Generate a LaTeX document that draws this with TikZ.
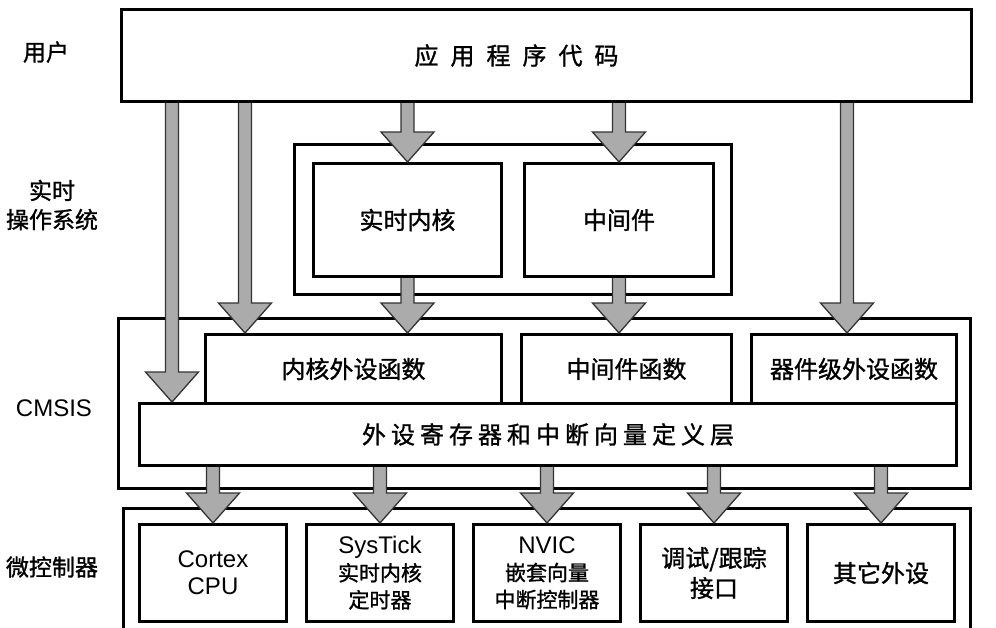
\documentclass[tikz,border=0pt]{standalone}
\usepackage{fontspec}
\setmainfont{Liberation Sans}
\newfontfamily\cjk[FakeBold=1.2]{Noto Sans CJK SC}
\usetikzlibrary{positioning,calc}
\newcommand{\appgap}{\hspace{12pt}}
\newcommand{\reggap}{\hspace{5pt}}
\newcommand{\smcjk}{\cjk\fontsize{21}{27}\selectfont}
\newcommand{\fatarrow}[2]{%
  \path[draw=black!80, fill=black!33, line width=1.3pt, line join=miter]
    let \p1=#1, \p2=#2 in
    (\x2-6.5pt,\y1) -- (\x2-6.5pt,\y2+30pt) -- (\x2-26.5pt,\y2+30pt) -- (\x2,\y2)
    -- (\x2+26.5pt,\y2+30pt) -- (\x2+6.5pt,\y2+30pt) -- (\x2+6.5pt,\y1);}

\begin{document}
\begin{tikzpicture}[x=1pt, y=-1pt,
  frame/.style={draw, line width=3pt, anchor=north west, inner sep=0pt},
  blk/.style={draw, line width=3pt, anchor=north west, inner sep=0pt, align=center,
    font=\cjk\fontsize{24}{28}\selectfont},
  chip/.style={draw, line width=3pt, inner sep=0pt, align=center,
    minimum width=147pt, minimum height=97pt, font=\fontsize{24}{27}\selectfont},
  side/.style={align=center, font=\cjk\fontsize{23}{29}\selectfont}
]
  \useasboundingbox (0,0) rectangle (996,627);
  \node[side] (user) at (46,52) {用户};
  \node[side] (os) at (52,205) {实时\\操作系统};
  \node[font=\fontsize{24}{28}\selectfont] (cmsislbl) at (54,408) {CMSIS};
  \node[side] (mculbl) at (52,567) {微控制器};

  \node[frame, minimum width=850, minimum height=92] (app) at (120,8) {};
  \node[font=\cjk\fontsize{24}{28}\selectfont] (apptxt) at ([xshift=-30pt]app.center)
    {应\appgap 用\appgap 程\appgap 序\appgap 代\appgap 码};

  \node[frame, minimum width=437, minimum height=150] (rtos) at (293,143) {};
  \node[blk, minimum width=188, minimum height=113] (rtk) at (312,162) {实时内核};
  \node[blk, minimum width=189, minimum height=113] (mid) at (523,162) {中间件};

  \node[frame, minimum width=852, minimum height=170] (cmsis) at (117,317) {};
  \node[blk, minimum width=296, minimum height=69] (core) at (204,333) {内核外设函数};
  \node[blk, minimum width=210, minimum height=69] (midfn) at (520,333) {中间件函数};
  \node[blk, minimum width=205, minimum height=69] (devfn) at (750,333) {器件级外设函数};
  \node[blk, minimum width=817, minimum height=62] (reg) at (138,402)
    {外\reggap 设\reggap 寄\reggap 存\reggap 器\reggap 和\reggap 中\reggap 断\reggap 向\reggap 量\reggap 定\reggap 义\reggap 层};

  \node[frame, minimum width=847, minimum height=160] (mcu) at (122,507) {};
  \node[chip, anchor=north west] (cpu) at (138,523) {Cortex\\CPU};
  \node[chip, right=17pt of cpu] (tick) {SysTick\\{\smcjk 实时内核}\\{\smcjk 定时器}};
  \node[chip, right=17pt of tick] (nvic) {NVIC\\{\smcjk 嵌套向量}\\{\smcjk 中断控制器}};
  \node[chip, right=17pt of nvic, font=\cjk\fontsize{24}{30}\selectfont] (dbg) {调试/跟踪\\接口};
  \node[chip, right=17pt of dbg, font=\cjk\fontsize{24}{28}\selectfont] (other) {其它外设};

  \fatarrow{(app.south)}{([xshift=34pt]reg.north west)}
  \fatarrow{(app.south)}{([xshift=41pt]core.north west)}
  \fatarrow{(app.south)}{(rtk.north)}
  \fatarrow{(app.south)}{(mid.north)}
  \fatarrow{(app.south)}{([xshift=-7pt]devfn.north)}
  \fatarrow{(rtk.south)}{(core.north -| rtk.north)}
  \fatarrow{(mid.south)}{(midfn.north -| mid.north)}
  \fatarrow{(reg.south)}{(cpu.north)}
  \fatarrow{(reg.south)}{(tick.north)}
  \fatarrow{(reg.south)}{(nvic.north)}
  \fatarrow{(reg.south)}{(dbg.north)}
  \fatarrow{(reg.south)}{(other.north)}
\end{tikzpicture}
\end{document}
